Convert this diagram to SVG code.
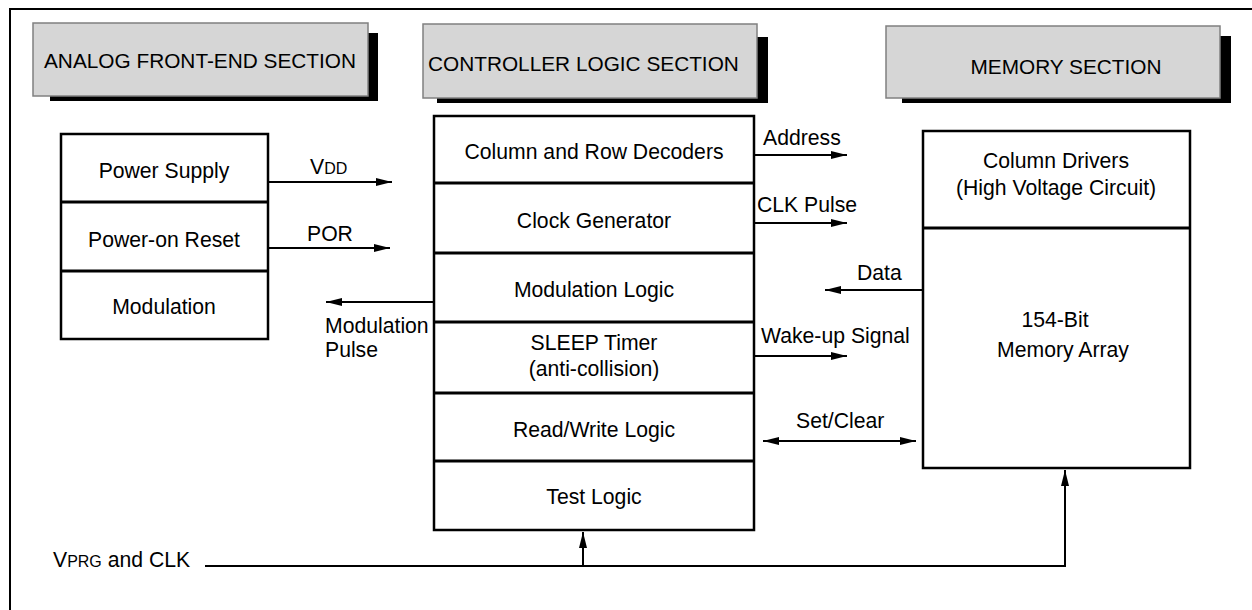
<svg xmlns="http://www.w3.org/2000/svg" width="1252" height="610" viewBox="0 0 1252 610">
<style>
text{font-family:"Liberation Sans",Arial,sans-serif;font-size:21.2px;fill:#000}
.c{text-anchor:middle}
.title{font-size:20.8px}
.tbox{fill:#d6d6d6;stroke:#808080;stroke-width:1.5}
.shadow{fill:#000}
.box{fill:#fff;stroke:#000;stroke-width:2.5}
.div{stroke:#000;stroke-width:3;fill:none}
.ln{stroke:#000;stroke-width:2;fill:none}
.sm{font-size:16px}
</style>
<defs>
<marker id="ah" markerUnits="userSpaceOnUse" markerWidth="17" markerHeight="9" refX="16" refY="4.5" orient="auto-start-reverse">
<path d="M0,0.5 L16,4.5 L0,8.5 z" fill="#000"/>
</marker>
</defs>
<rect width="1252" height="610" fill="#fff"/>
<path d="M10,612 V9 H1254" class="ln" stroke-width="2.5"/>

<g id="title-analog">
<rect class="shadow" x="50" y="33" width="328" height="68"/>
<rect class="tbox" x="33" y="23" width="335" height="73"/>
<text class="c title" x="200" y="68">ANALOG FRONT-END SECTION</text>
</g>
<g id="title-controller">
<rect class="shadow" x="437" y="37" width="331" height="66"/>
<rect class="tbox" x="423" y="24" width="334" height="74"/>
<text class="title" x="428" y="71" font-size="21.2px">CONTROLLER LOGIC SECTION</text>
</g>
<g id="title-memory">
<rect class="shadow" x="902" y="36" width="329" height="67"/>
<rect class="tbox" x="886" y="26" width="334" height="72"/>
<text class="c title" x="1066" y="74" font-size="21px">MEMORY SECTION</text>
</g>

<g id="analog">
<rect class="box" x="61" y="134" width="207" height="205"/>
<line class="div" x1="61" y1="202" x2="268" y2="202"/>
<line class="div" x1="61" y1="271" x2="268" y2="271"/>
<text class="c" x="164" y="178">Power Supply</text>
<text class="c" x="164" y="247">Power-on Reset</text>
<text class="c" x="164" y="314">Modulation</text>
</g>

<g id="controller">
<rect class="box" x="434" y="116" width="320" height="414"/>
<line class="div" x1="434" y1="183" x2="754" y2="183"/>
<line class="div" x1="434" y1="253" x2="754" y2="253"/>
<line class="div" x1="434" y1="322" x2="754" y2="322"/>
<line class="div" x1="434" y1="393" x2="754" y2="393"/>
<line class="div" x1="434" y1="461" x2="754" y2="461"/>
<text class="c" x="594" y="159">Column and Row Decoders</text>
<text class="c" x="594" y="228">Clock Generator</text>
<text class="c" x="594" y="297">Modulation Logic</text>
<text class="c" x="594" y="350">SLEEP Timer</text>
<text class="c" x="594" y="376">(anti-collision)</text>
<text class="c" x="594" y="437">Read/Write Logic</text>
<text class="c" x="594" y="504">Test Logic</text>
</g>

<g id="memory">
<rect class="box" x="923" y="131" width="267" height="337"/>
<line class="div" x1="923" y1="228" x2="1190" y2="228"/>
<text class="c" x="1056" y="168">Column Drivers</text>
<text class="c" x="1056" y="195">(High Voltage Circuit)</text>
<text class="c" x="1055" y="327">154-Bit</text>
<text class="c" x="1063" y="357">Memory Array</text>
</g>

<g id="connectors">
<line class="ln" x1="268" y1="182" x2="392" y2="182" marker-end="url(#ah)"/>
<line class="ln" x1="268" y1="248" x2="390" y2="248" marker-end="url(#ah)"/>
<line class="ln" x1="434" y1="302" x2="326" y2="302" marker-end="url(#ah)"/>
<line class="ln" x1="754" y1="155" x2="847" y2="155" marker-end="url(#ah)"/>
<line class="ln" x1="754" y1="223" x2="847" y2="223" marker-end="url(#ah)"/>
<line class="ln" x1="923" y1="290" x2="825" y2="290" marker-end="url(#ah)"/>
<line class="ln" x1="754" y1="356" x2="847" y2="356" marker-end="url(#ah)"/>
<line class="ln" x1="763" y1="441" x2="916" y2="441" marker-start="url(#ah)" marker-end="url(#ah)"/>
<polyline class="ln" points="205,566 1065,566 1065,470" marker-end="url(#ah)"/>
<line class="ln" x1="583" y1="566" x2="583" y2="532" marker-end="url(#ah)"/>
</g>

<g id="labels">
<text x="310" y="174">V<tspan class="sm">DD</tspan></text>
<text x="307" y="241">POR</text>
<text x="325" y="333">Modulation</text>
<text x="325" y="357">Pulse</text>
<text x="763" y="145">Address</text>
<text x="757" y="212">CLK Pulse</text>
<text x="857" y="280">Data</text>
<text x="761" y="343">Wake-up Signal</text>
<text x="796" y="428">Set/Clear</text>
<text x="53" y="567">V<tspan class="sm">PRG</tspan> and CLK</text>
</g>
</svg>
